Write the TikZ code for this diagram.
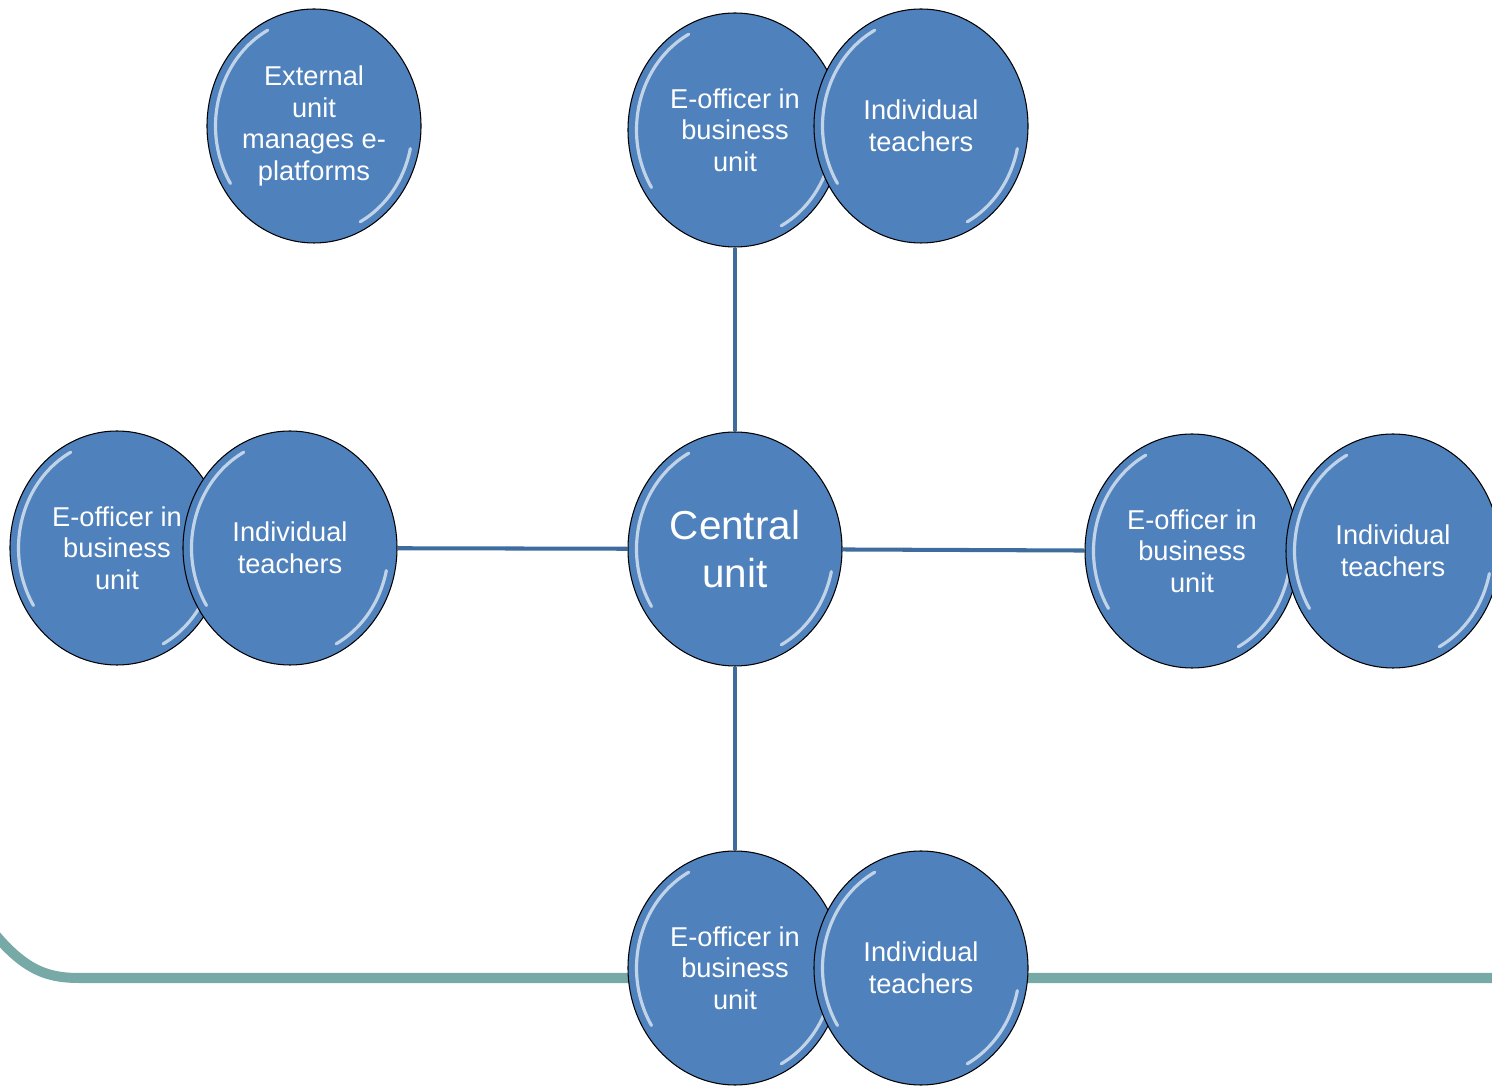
\documentclass[tikz,border=0pt]{standalone}
\usepackage{fontspec}
\setmainfont{Liberation Sans}
\usepackage{tikz}
\usetikzlibrary{shapes.geometric,calc}
\definecolor{ballblue}{HTML}{4F81BD}
\definecolor{linkblue}{HTML}{3F6C9E}
\definecolor{slideteal}{HTML}{77A9A6}

\begin{document}
\begin{tikzpicture}
\tikzstyle{every node}=[font=\fontsize{15.5}{18}\selectfont]
\tikzstyle{shine}=[white, opacity=.65, line width=1.8pt, line cap=round]
\tikzstyle{ball}=[ellipse, draw=black, line width=0.6pt, fill=ballblue, text=white,
  minimum width=4.28cm, minimum height=4.68cm, inner sep=0pt, align=center,
  path picture={
    \draw [shine] ($(path picture bounding box.center)+(118:1.97cm and 2.17cm)$)
      arc[start angle=118, end angle=212, x radius=1.97cm, y radius=2.17cm];
    \draw [shine] ($(path picture bounding box.center)+(-12:1.97cm and 2.17cm)$)
      arc[start angle=-12, end angle=-62, x radius=1.97cm, y radius=2.17cm];
  }]
\tikzstyle{link}=[linkblue, line width=2.3pt]
\useasboundingbox (0,0) rectangle (29.84,21.7);
% slide line
\draw [slideteal, line width=5.7pt] (-0.4,3.4) .. controls (0.4,2.3) and (0.9,2.14) .. (1.6,2.14) -- (30.2,2.14);
% units
\node [ball] (eleft) at (2.34,10.74) {E-officer in\\business\\unit};
\node [ball] (ileft) at (5.80,10.74) {Individual\\teachers};
\node [ball] (ext) at (6.28,19.18) {External\\unit\\manages e-\\platforms};
\node [ball] (etop) at (14.70,19.10) {E-officer in\\business\\unit};
\node [ball] (itop) at (18.42,19.18) {Individual\\teachers};
\node [ball, font=\fontsize{23}{27}\selectfont] (cen) at (14.70,10.72) {Central\\unit};
\node [ball] (eright) at (23.84,10.68) {E-officer in\\business\\unit};
\node [ball] (iright) at (27.86,10.68) {Individual\\teachers};
\node [ball] (ebot) at (14.70,2.34) {E-officer in\\business\\unit};
\node [ball] (ibot) at (18.42,2.34) {Individual\\teachers};
% links
\draw [link] (cen) -- (etop);
\draw [link] (cen) -- (ileft);
\draw [link] (cen) -- (eright);
\draw [link] (cen) -- (ebot);
\end{tikzpicture}
\end{document}
